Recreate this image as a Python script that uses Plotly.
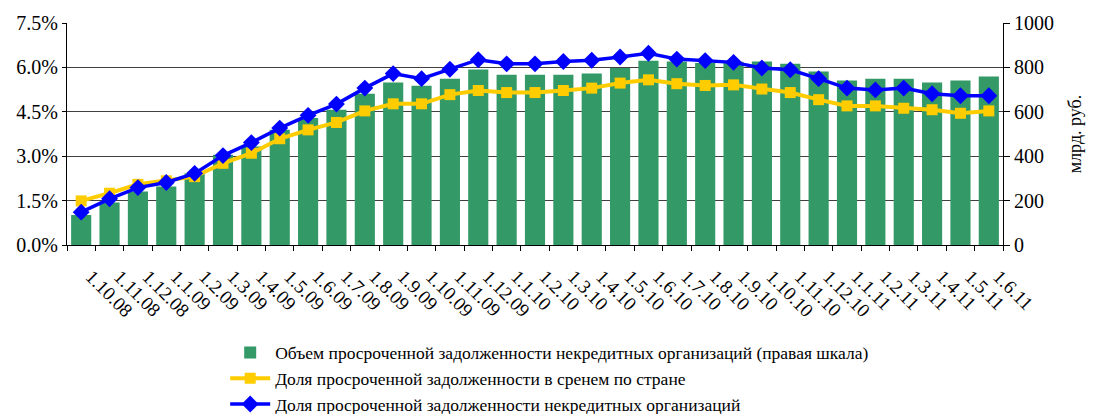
import plotly.graph_objects as go

# categories (dates, d.m.yy)
dates = [
    "1.10.08", "1.11.08", "1.12.08",
    "1.1.09", "1.2.09", "1.3.09", "1.4.09", "1.5.09", "1.6.09",
    "1.7.09", "1.8.09", "1.9.09", "1.10.09", "1.11.09", "1.12.09",
    "1.1.10", "1.2.10", "1.3.10", "1.4.10", "1.5.10", "1.6.10",
    "1.7.10", "1.8.10", "1.9.10", "1.10.10", "1.11.10", "1.12.10",
    "1.1.11", "1.2.11", "1.3.11", "1.4.11", "1.5.11", "1.6.11",
]

# overdue debt of non-credit organisations, bln rub (right scale)
overdue_volume = [
    135, 191, 241, 263, 323, 406, 444, 519, 572, 609, 681,
    732, 717, 749, 790, 767, 767, 767, 772, 797, 830, 827,
    820, 826, 827, 817, 782, 741, 749, 749, 732, 741, 759,
]

# share of overdue debt, country average, %
share_country = [
    1.49, 1.75, 2.05, 2.17, 2.31, 2.76, 3.10, 3.59, 3.89, 4.14, 4.53,
    4.77, 4.77, 5.08, 5.22, 5.15, 5.15, 5.22, 5.30, 5.47, 5.58, 5.45,
    5.39, 5.41, 5.27, 5.15, 4.91, 4.70, 4.70, 4.62, 4.57, 4.45, 4.53,
]

# share of overdue debt of non-credit organisations, %
share_noncredit = [
    1.11, 1.56, 1.94, 2.11, 2.42, 3.02, 3.46, 3.95, 4.38, 4.76, 5.30,
    5.79, 5.62, 5.94, 6.26, 6.12, 6.12, 6.20, 6.24, 6.35, 6.48, 6.28,
    6.23, 6.17, 5.98, 5.92, 5.62, 5.30, 5.24, 5.30, 5.11, 5.04, 5.04,
]

FONT = "Liberation Serif, Times New Roman, serif"

fig = go.Figure()

fig.add_trace(go.Bar(
    x=dates, y=overdue_volume,
    name="Объем просроченной задолженности некредитных организаций (правая шкала)",
    marker=dict(color="#339966", line=dict(width=0)),
    yaxis="y",
))
fig.add_trace(go.Scatter(
    x=dates, y=share_country,
    name="Доля просроченной задолженности в сренем по стране",
    mode="lines+markers",
    line=dict(color="#FFCC00", width=4),
    marker=dict(symbol="square", size=11, color="#FFCC00"),
    yaxis="y2",
))
fig.add_trace(go.Scatter(
    x=dates, y=share_noncredit,
    name="Доля просроченной задолженности некредитных организаций",
    mode="lines+markers",
    line=dict(color="#0000FF", width=3.5),
    marker=dict(symbol="diamond", size=13, color="#0000FF"),
    yaxis="y2",
))

# page body has an 8px margin, so the figure is a bit smaller and shifted
fig.update_layout(
    width=1086, height=406,
    margin=dict(l=59, r=91, t=15, b=169, autoexpand=False),
    paper_bgcolor="white", plot_bgcolor="white",
    font=dict(family=FONT, size=19, color="black"),
    bargap=0.29,
    showlegend=True,
    legend=dict(
        x=0.169, y=-0.404, xanchor="left", yanchor="top",
        orientation="v", traceorder="normal",
        font=dict(family=FONT, size=17.5),
        bgcolor="rgba(0,0,0,0)",
        itemwidth=40,
    ),
    xaxis=dict(
        type="category",
        range=[-0.5, len(dates) - 0.5],
        tickangle=45,
        tickson="boundaries",
        ticks="outside", ticklen=5, tickcolor="black",
        ticklabelstandoff=12, ticklabelshift=10,
        showline=True, linecolor="black", linewidth=1,
        showgrid=False,
        tickfont=dict(size=19),
    ),
    yaxis=dict(
        side="right",
        range=[0, 1000], dtick=200,
        ticks="outside", ticklen=6, tickcolor="black",
        showline=True, linecolor="black", linewidth=1,
        showgrid=True, gridcolor="#404040", gridwidth=1,
        zeroline=False,
        tickfont=dict(size=20),
        title=dict(text="млрд. руб.", font=dict(size=18), standoff=15),
    ),
    yaxis2=dict(
        overlaying="y", side="left",
        range=[0, 7.5], dtick=1.5,
        tickformat=".1f", ticksuffix="%",
        ticks="outside", ticklen=4, tickcolor="black",
        showline=True, linecolor="black", linewidth=1,
        showgrid=False, zeroline=False,
        tickfont=dict(size=20),
    ),
)

fig.write_html("out.html")
